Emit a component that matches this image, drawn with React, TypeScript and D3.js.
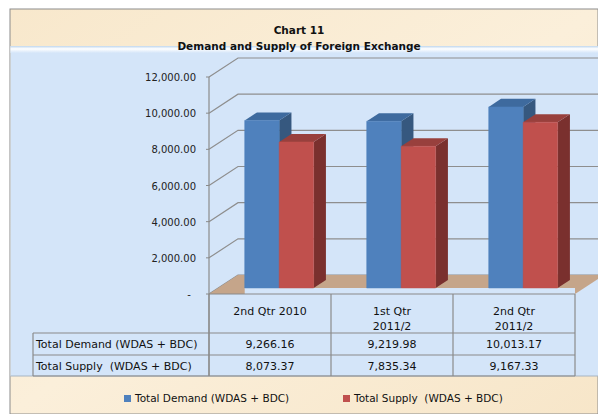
import React from "react";
import * as d3 from "d3";

const categories = ["2nd Qtr 2010", "1st Qtr\n2011/2", "2nd Qtr\n2011/2"];
const demand = [9266.16, 9219.98, 10013.17];
const supply = [8073.37, 7835.34, 9167.33];
const seriesNames = ["Total Demand (WDAS + BDC)", "Total Supply  (WDAS + BDC)"];
const yTicks = [0, 2000, 4000, 6000, 8000, 10000, 12000];
const titleLines = ["Chart 11", "Demand and Supply of Foreign Exchange"];

const W = 598;
const H = 414;
const FONT = "'DejaVu Sans', sans-serif";

const frontColors = ["#4F81BD", "#C0504D"];
const topColors = ["#3E6A9E", "#98403D"];
const sideColors = ["#36587F", "#7A302E"];

export default function App() {
  const left = 209;
  const right = 575;
  const y0 = 294;
  const depth = { dx: 29, dy: -19 };
  const proj = (x: number, y: number, t: number): [number, number] => [x + depth.dx * t, y + depth.dy * t];

  const y = d3.scaleLinear().domain([0, 12000]).range([y0, 77]);
  const x = d3.scaleBand().domain(categories).range([left, right]);
  const inner = d3.scaleBand().domain(["d", "s"]).range([0, x.bandwidth()]).paddingInner(0).paddingOuter(0.77);
  const t0 = 0.316;
  const t1 = 0.74;
  const fmt = d3.format(",.2f");
  const series = [demand, supply];

  const pts = (arr: [number, number][]) => arr.map((p) => p.join(",")).join(" ");

  const bars: JSX.Element[] = [];
  categories.forEach((c, ci) => {
    series.forEach((s, si) => {
      const v = s[ci];
      const bx0 = (x(c) as number) + (inner(si === 0 ? "d" : "s") as number);
      const bx1 = bx0 + inner.bandwidth();
      const yt = y(v);
      const front = [proj(bx0, y0, t0), proj(bx1, y0, t0), proj(bx1, yt, t0), proj(bx0, yt, t0)];
      const top = [proj(bx0, yt, t0), proj(bx1, yt, t0), proj(bx1, yt, t1), proj(bx0, yt, t1)];
      const side = [proj(bx1, y0, t0), proj(bx1, y0, t1), proj(bx1, yt, t1), proj(bx1, yt, t0)];
      bars.push(
        <g key={`${ci}-${si}`}>
          <polygon points={pts(side as any)} fill={sideColors[si]} />
          <polygon points={pts(top as any)} fill={topColors[si]} />
          <polygon points={pts(front as any)} fill={frontColors[si]} stroke={frontColors[si]} strokeWidth={0.5} />
        </g>
      );
    });
  });

  const floor = [proj(left, y0, 0), proj(right, y0, 0), proj(right, y0, 1), proj(left, y0, 1)];
  const tableTop = y0;
  const rowTop = 333;
  const row1 = 355;
  const row2 = 376;
  const labelLeft = 33;
  const colEdges = [left, ...categories.map((c) => (x(c) as number) + x.bandwidth())];
  const gridColor = "#8E8E8E";
  const lineColor = "#8A8A8A";
  const stripX = proj(left, y0, t0)[0] + (inner("d") as number);
  const stripY = proj(left, y0, t0)[1];

  return (
    <svg width={W} height={H} style={{ position: "absolute", left: 0, top: 0 }} fontFamily={FONT}>
      <defs>
        <linearGradient id="beige" x1="0" y1="0" x2="1" y2="1">
          <stop offset="0" stopColor="#F8E8CC" />
          <stop offset="0.5" stopColor="#FBEFDA" />
          <stop offset="1" stopColor="#F7E6C9" />
        </linearGradient>
        <linearGradient id="hl" x1="0" y1="0" x2="0" y2="1">
          <stop offset="0" stopColor="#BFD6EE" />
          <stop offset="0.4" stopColor="#FFFFFF" />
          <stop offset="1" stopColor="#D4E5F9" />
        </linearGradient>
      </defs>
      <rect x={0} y={0} width={W} height={H} fill="#FFFFFF" />
      <rect x={10} y={9} width={W - 10} height={H - 9} fill="url(#beige)" stroke="#8C8C8C" strokeWidth={1} />
      <rect x={10.5} y={46} width={W - 10.5} height={row2 - 46} fill="#D4E5F9" />
      <rect x={10.5} y={46} width={W - 10.5} height={7} fill="url(#hl)" />
      <line x1={10.5} x2={W} y1={row2} y2={row2} stroke="#A7B4C2" strokeWidth={1} />

      {yTicks.map((v) => {
        const a = proj(left, y(v), 0);
        const b = proj(left, y(v), 1);
        const c = proj(right, y(v), 1);
        return <polyline key={v} points={pts([a, b, c])} fill="none" stroke={gridColor} strokeWidth={1.2} />;
      })}

      <polygon points={pts(floor as any)} fill="#C5A58A" />
      <rect x={stripX} y={stripY} width={right - stripX} height={y0 - stripY} fill="#D4E5F9" />

      <line x1={left} x2={left} y1={y(12000)} y2={row2} stroke={lineColor} strokeWidth={1.2} />
      {yTicks.map((v) => (
        <line key={v} x1={left - 3} x2={left} y1={y(v)} y2={y(v)} stroke={lineColor} strokeWidth={1} />
      ))}
      {yTicks.map((v) => (
        <text
          key={v}
          x={v === 0 ? 189 : 196}
          y={y(v) + 1}
          textAnchor={v === 0 ? "middle" : "end"}
          dominantBaseline="middle"
          fontSize={10}
          fill="#222"
        >
          {v === 0 ? "-" : fmt(v)}
        </text>
      ))}

      {bars}

      <g stroke={lineColor} strokeWidth={1.2}>
        <line x1={left} x2={right} y1={tableTop} y2={tableTop} />
        <line x1={labelLeft} x2={right} y1={rowTop} y2={rowTop} />
        <line x1={labelLeft} x2={right} y1={row1} y2={row1} />
        <line x1={labelLeft} x2={right} y1={row2} y2={row2} />
        <line x1={labelLeft} x2={labelLeft} y1={rowTop} y2={row2} />
        {colEdges.map((cx, i) => (
          <line key={i} x1={cx} x2={cx} y1={tableTop} y2={row2} />
        ))}
      </g>
      {categories.map((c) => {
        const lines = c.split("\n");
        const cx = (x(c) as number) + x.bandwidth() / 2;
        return (
          <text key={c} x={cx} textAnchor="middle" fontSize={11} fill="#111">
            {lines.map((l, i) => (
              <tspan key={i} x={cx} y={315 + i * 15}>
                {l}
              </tspan>
            ))}
          </text>
        );
      })}
      {series.map((s, si) => {
        const cy = si === 0 ? (rowTop + row1) / 2 : (row1 + row2) / 2;
        return (
          <g key={si}>
            <text x={labelLeft + 3} y={cy + 4} fontSize={11} fill="#111" style={{ whiteSpace: "pre" }}>
              {seriesNames[si]}
            </text>
            {categories.map((c, ci) => (
              <text key={c} x={(x(c) as number) + x.bandwidth() / 2} y={cy + 4} textAnchor="middle" fontSize={11} fill="#111">
                {fmt(s[ci])}
              </text>
            ))}
          </g>
        );
      })}

      <text x={299} y={34} textAnchor="middle" fontSize={10.5} fontWeight="bold" fill="#111">
        {titleLines[0]}
      </text>
      <text x={299} y={50} textAnchor="middle" fontSize={10.5} fontWeight="bold" fill="#111">
        {titleLines[1]}
      </text>

      {[124, 343].map((lx, i) => (
        <g key={i}>
          <rect x={lx} y={395} width={7} height={7} fill={frontColors[i]} />
          <text x={lx + 11} y={402} fontSize={10.5} fill="#111" style={{ whiteSpace: "pre" }}>
            {seriesNames[i]}
          </text>
        </g>
      ))}
    </svg>
  );
}
